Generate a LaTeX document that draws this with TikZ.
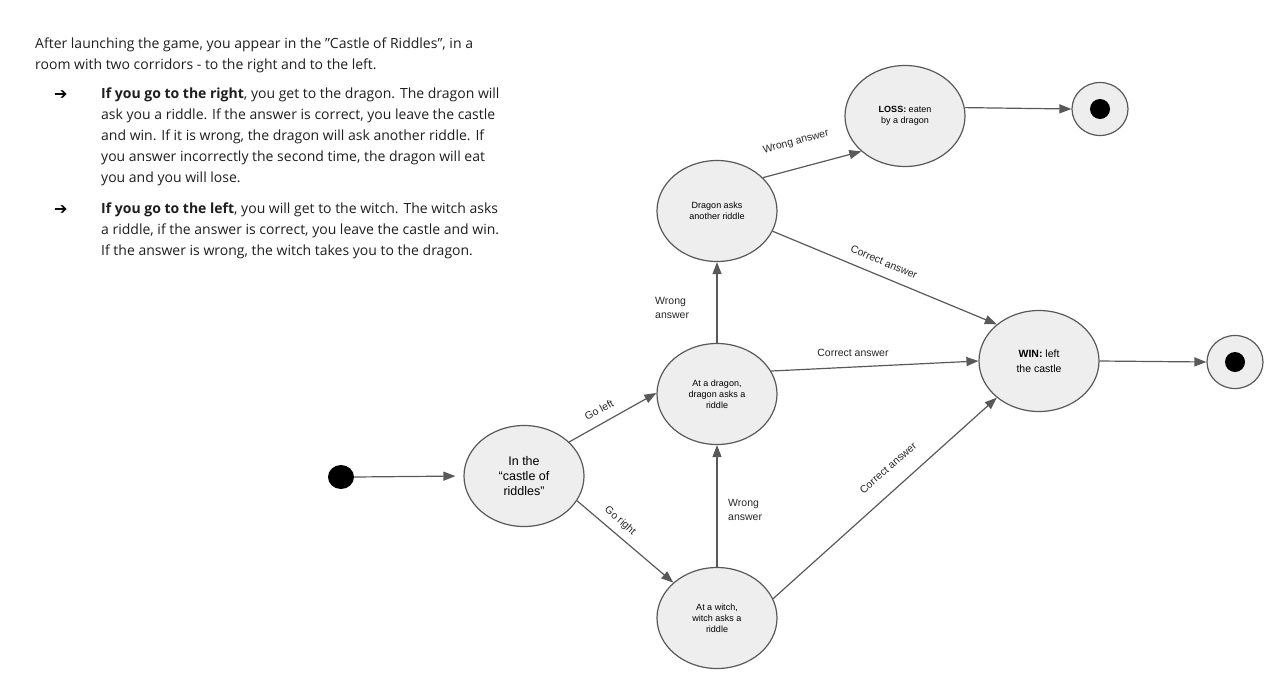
\documentclass[tikz,border=0pt]{standalone}
\usepackage{fontspec}
\setmainfont{Open Sans}
\newfontfamily\arialf{Liberation Sans}
\newfontfamily\dejavu{DejaVu Sans}
\usetikzlibrary{shapes.geometric,arrows.meta}
\definecolor{edgec}{HTML}{595959}
\definecolor{fillc}{HTML}{EEEEEE}
\definecolor{txtc}{HTML}{1E1E1E}
\tikzset{
  state/.style={ellipse, draw=edgec, fill=fillc, line width=1.2pt, minimum width=120pt, minimum height=101pt, inner sep=0pt, align=center, font=\arialf\fontsize{9}{11}\selectfont},
  endst/.style={ellipse, draw=edgec, fill=fillc, line width=1.2pt, minimum width=56pt, minimum height=53pt, inner sep=0pt},
  dot/.style={circle, fill=black, minimum size=20pt, inner sep=0pt},
  arr/.style={draw=edgec, line width=1.2pt, -{Triangle[length=12pt,width=9pt]}},
  lbl/.style={font=\arialf\fontsize{10.5}{13.5}\selectfont, inner sep=0pt, text=black!85},
  para/.style={anchor=base west, inner sep=0pt, text=txtc, font=\fontsize{14}{21}\selectfont},
  bul/.style={anchor=base west, inner sep=0pt, text=black, font=\dejavu\fontsize{16}{21}\selectfont}
}
\begin{document}
\begin{tikzpicture}[x=1pt,y=-1pt]
\useasboundingbox (0,0) rectangle (1283,689);
% text block
\node[para] (t1) at (35,48) {After launching the game, you appear in the \symbol{34}Castle of Riddles\symbol{34}, in a};
\node[para] (t2) at (35,69) {room with two corridors - to the right and to the left.};
\node[bul] (a1) at (54,99) {➔};
\node[para] (t3) at (101,98) {\textbf{If you go to the right}, you get to the dragon. The dragon will};
\node[para] (t4) at (101,119) {ask you a riddle. If the answer is correct, you leave the castle};
\node[para] (t5) at (101,140) {and win. If it is wrong, the dragon will ask another riddle. If};
\node[para] (t6) at (101,161) {you answer incorrectly the second time, the dragon will eat};
\node[para] (t7) at (101,182) {you and you will lose.};
\node[bul] (a2) at (54,214) {➔};
\node[para] (t8) at (101,213) {\textbf{If you go to the left}, you will get to the witch. The witch asks};
\node[para] (t9) at (101,234) {a riddle, if the answer is correct, you leave the castle and win.};
\node[para] (t10) at (101,255) {If the answer is wrong, the witch takes you to the dragon.};

% states
\node[ellipse, fill=black, minimum width=26pt, minimum height=24pt, inner sep=0pt] (start) at (341,477) {};
\node[state, font=\arialf\fontsize{12.5}{15}\selectfont] (castle) at (524,476) {In the\\“castle of\\riddles”};
\node[state] (dragon) at (717,394) {At a dragon,\\dragon asks a\\riddle};
\node[state] (another) at (717,211) {Dragon asks\\another riddle};
\node[state] (loss) at (905,116) {\textbf{LOSS:} eaten\\by a dragon};
\node[state, font=\arialf\fontsize{10.5}{15}\selectfont] (win) at (1039,361) {\textbf{WIN:} left\\the castle};
\node[state] (witch) at (717,618) {At a witch,\\witch asks a\\riddle};
\node[endst] (end1) at (1100,109) {};
\node[dot] (d1) at (end1) {};
\node[endst] (end2) at (1235,362) {};
\node[dot] (d2) at (end2) {};

% edges
\draw[arr, shorten >=8pt] (start.east) -- (castle.west);
\draw[arr] (castle.37) -- (dragon.179);
\draw[arr] (castle.-25) -- (witch.141);
\draw[arr] (witch.north) -- (dragon.south);
\draw[arr] (witch.19) -- (win.221);
\draw[arr] (dragon.23) -- (win.west);
\draw[arr] (dragon.north) -- (another.south);
\draw[arr] (another.36) -- (loss.219);
\draw[arr] (another.-20) -- (win.139);
\draw[arr] (loss.8) -- (end1.west);
\draw[arr] (win.east) -- (end2.west);

% labels
\node[lbl, rotate=28] (lgl) at (599,410) {Go left};
\node[lbl, rotate=-41] (lgr) at (620,521) {Go right};
\node[lbl, anchor=west, align=left] (lw1) at (728,510) {Wrong\\answer};
\node[lbl, anchor=west, align=left] (lw2) at (655,308) {Wrong\\answer};
\node[lbl] (lc1) at (853,353) {Correct answer};
\node[lbl, rotate=41] (lc2) at (888,468) {Correct answer};
\node[lbl, rotate=15] (lw3) at (796,142) {Wrong answer};
\node[lbl, rotate=-23] (lc3) at (884,262) {Correct answer};
\end{tikzpicture}
\end{document}
